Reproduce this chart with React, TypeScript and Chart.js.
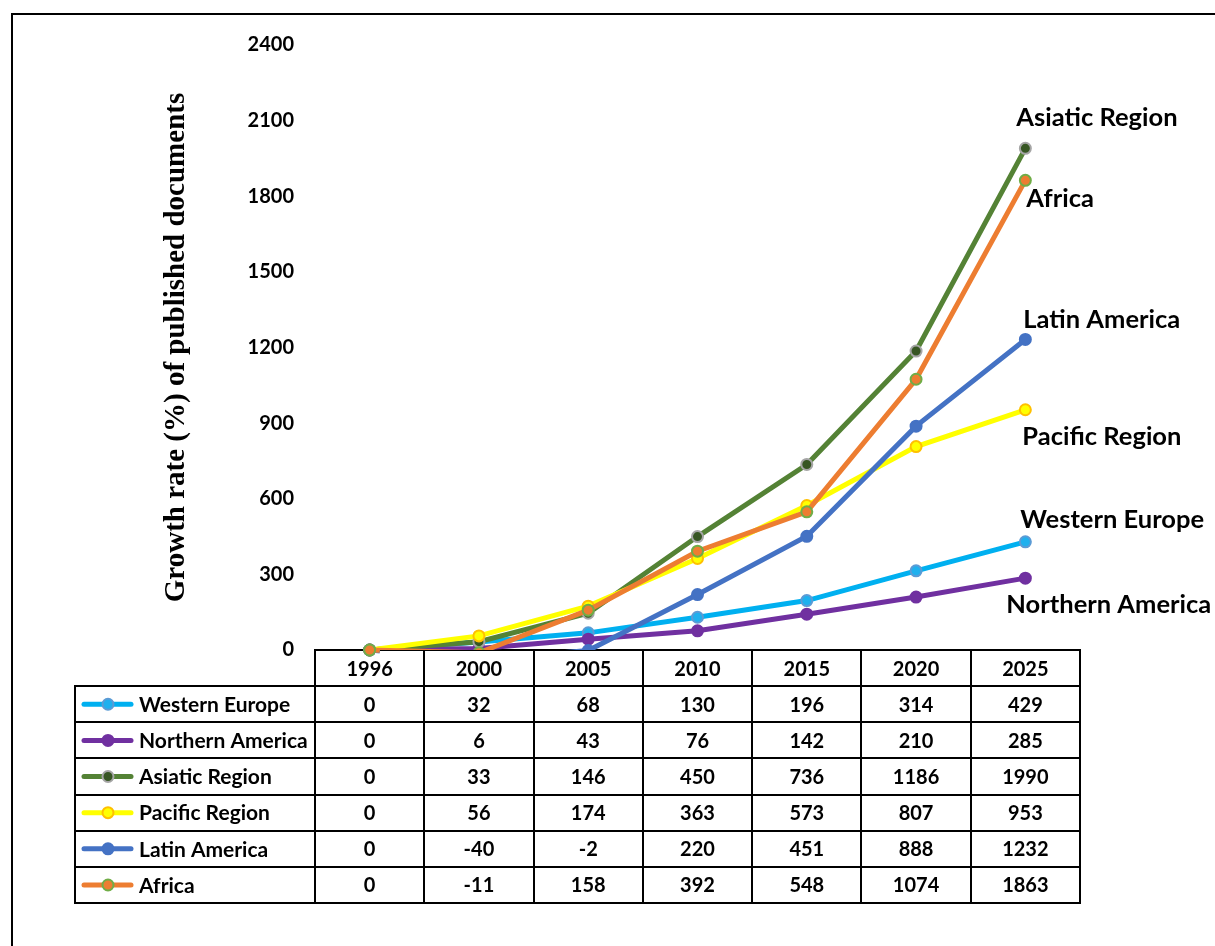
import React, { useEffect, useRef } from "react";
import { Chart, registerables } from "chart.js";

Chart.register(...registerables);

// ---------- DATA ----------
const years = ["1996", "2000", "2005", "2010", "2015", "2020", "2025"];
const seriesNames = [
  "Western Europe",
  "Northern America",
  "Asiatic Region",
  "Pacific Region",
  "Latin America",
  "Africa",
];
const westernEurope = [0, 32, 68, 130, 196, 314, 429];
const northernAmerica = [0, 6, 43, 76, 142, 210, 285];
const asiaticRegion = [0, 33, 146, 450, 736, 1186, 1990];
const pacificRegion = [0, 56, 174, 363, 573, 807, 953];
const latinAmerica = [0, -40, -2, 220, 451, 888, 1232];
const africa = [0, -11, 158, 392, 548, 1074, 1863];
const yMin = 0;
const yMax = 2400;
const yStep = 300;
const yAxisTitle = "Growth rate (%) of published documents";

const seriesValues = [
  westernEurope,
  northernAmerica,
  asiaticRegion,
  pacificRegion,
  latinAmerica,
  africa,
];

// ---------- STYLES ----------
const lineColors = ["#00B0F0", "#7030A0", "#548235", "#FFFF00", "#4472C4", "#ED7D31"];
const markerFills = ["#1FB0EE", "#7030A0", "#375623", "#FFFF00", "#4472C4", "#ED7D31"];
const markerBorders = ["#5B9BD5", "#7030A0", "#A5A5A5", "#FFC000", "#4472C4", "#70AD47"];
// end-label offsets relative to last point (dx, dy)
const endLabelOffsets = [
  [-5, -22],
  [-19, 27],
  [-9, -31],
  [-3, 27],
  [-2, -20],
  [1, 18],
];

const SANS = 'Lato, "Noto Sans", sans-serif';
const TABLE_FONT = `bold 20px ${SANS}`;
const LEGEND_FONT = `bold 21px ${SANS}`;
const END_FONT = `bold 25.5px ${SANS}`;

const framePlugin = {
  id: "frame",
  beforeDraw(chart: any) {
    const { ctx, width, height } = chart;
    ctx.save();
    ctx.fillStyle = "#fff";
    ctx.fillRect(0, 0, width, height);
    ctx.strokeStyle = "#000";
    ctx.lineWidth = 2;
    ctx.strokeRect(12, 14, width + 50, height + 50);
    ctx.restore();
  },
};

const tablePlugin = {
  id: "dataTable",
  beforeDatasetsDraw(chart: any) {
    const { ctx, chartArea } = chart;
    const x = chart.scales.x;
    const n = years.length;
    const top = Math.round(chartArea.bottom);
    const rowH = 36.15;
    const rows = seriesNames.length + 1;
    const bottom = Math.round(top + rows * rowH);
    const colW = x.getPixelForValue(1) - x.getPixelForValue(0);
    const legendLeft = 75;
    const bounds: number[] = [];
    for (let i = 0; i < n; i++) bounds.push(Math.round(x.getPixelForValue(i) - colW / 2));
    bounds.push(Math.round(x.getPixelForValue(n - 1) + colW / 2));
    const left = bounds[0];
    const right = bounds[n];

    ctx.save();
    ctx.strokeStyle = "#000";
    ctx.lineWidth = 2;
    ctx.beginPath();
    ctx.moveTo(left, top);
    ctx.lineTo(right + 1, top);
    for (let r = 1; r <= rows; r++) {
      const y = Math.round(top + r * rowH);
      ctx.moveTo(legendLeft - 1, y);
      ctx.lineTo(right + 1, y);
    }
    for (const b of bounds) {
      ctx.moveTo(b, top - 1);
      ctx.lineTo(b, bottom + 1);
    }
    ctx.moveTo(legendLeft, Math.round(top + rowH) - 1);
    ctx.lineTo(legendLeft, bottom + 1);
    ctx.stroke();

    ctx.fillStyle = "#000";
    ctx.textAlign = "center";
    ctx.textBaseline = "middle";
    ctx.font = TABLE_FONT;
    years.forEach((yr, i) => {
      ctx.fillText(yr, x.getPixelForValue(i), top + rowH / 2 + 1);
    });
    seriesValues.forEach((vals, s) => {
      const cy = top + (s + 1) * rowH + rowH / 2 + 1;
      vals.forEach((v, i) => {
        ctx.fillText(String(v), x.getPixelForValue(i), cy);
      });
    });

    // legend column
    seriesNames.forEach((name, s) => {
      const cy = top + (s + 1) * rowH + rowH / 2;
      ctx.lineCap = "round";
      ctx.lineWidth = 5;
      ctx.strokeStyle = lineColors[s];
      ctx.beginPath();
      ctx.moveTo(84, cy);
      ctx.lineTo(131, cy);
      ctx.stroke();
      ctx.beginPath();
      ctx.arc(108, cy, 5.5, 0, Math.PI * 2);
      ctx.fillStyle = markerFills[s];
      ctx.fill();
      ctx.lineWidth = 2;
      ctx.strokeStyle = markerBorders[s];
      ctx.stroke();
      ctx.fillStyle = "#000";
      ctx.textAlign = "left";
      ctx.font = LEGEND_FONT;
      ctx.fillText(name, 139, cy + 1);
    });
    ctx.restore();
  },
};

const clipPlugin = {
  id: "clipBelowAxis",
  beforeDatasetDraw(chart: any) {
    const { ctx, chartArea, width } = chart;
    const x0 = chart.scales.x.getPixelForValue(0);
    ctx.save();
    ctx.beginPath();
    ctx.rect(0, 0, width, chartArea.bottom);
    ctx.rect(x0 - 10, chartArea.bottom - 1, 20, 10);
    ctx.clip();
  },
  afterDatasetDraw(chart: any) {
    chart.ctx.restore();
  },
};

const endLabelPlugin = {
  id: "endLabels",
  afterDatasetsDraw(chart: any) {
    const { ctx } = chart;
    ctx.save();
    ctx.fillStyle = "#000";
    ctx.font = END_FONT;
    ctx.textAlign = "left";
    ctx.textBaseline = "middle";
    seriesNames.forEach((name, s) => {
      const meta = chart.getDatasetMeta(s);
      const pt = meta.data[meta.data.length - 1];
      const [dx, dy] = endLabelOffsets[s];
      ctx.fillText(name, pt.x + dx, pt.y + dy);
    });
    ctx.restore();
  },
};

export default function App() {
  const ref = useRef<HTMLCanvasElement | null>(null);

  useEffect(() => {
    document.body.style.margin = "0";
    const canvas = ref.current;
    if (!canvas) return;
    const chart = new Chart(canvas, {
      type: "line",
      data: {
        labels: years,
        datasets: seriesNames.map((name, s) => ({
          label: name,
          data: seriesValues[s],
          borderColor: lineColors[s],
          backgroundColor: markerFills[s],
          pointBackgroundColor: markerFills[s],
          pointBorderColor: markerBorders[s],
          pointBorderWidth: 2,
          pointRadius: 5.5,
          borderWidth: 5,
          tension: 0,
          fill: false,
          clip: false as any,
          order: seriesNames.length - s,
        })),
      },
      options: {
        responsive: false,
        animation: false,
        events: [],
        layout: { padding: { left: 150, right: 135, top: 45, bottom: 296 } },
        plugins: {
          legend: { display: false },
          tooltip: { enabled: false },
        },
        scales: {
          x: {
            type: "category",
            offset: true,
            display: false,
          },
          y: {
            min: yMin,
            max: yMax,
            grid: { display: false, drawTicks: false },
            border: { display: false },
            ticks: {
              stepSize: yStep,
              padding: 21,
              color: "#000",
              font: { family: SANS, size: 20, weight: "bold" },
              callback: (v: any) => String(v),
            },
            title: {
              display: true,
              text: yAxisTitle,
              color: "#000",
              padding: { top: 9, bottom: 0 },
              font: { family: '"Liberation Serif", "Times New Roman", serif', size: 29, weight: "bold" },
            },
            afterFit(scale: any) {
              scale.width = 165;
            },
          },
        },
      },
      plugins: [framePlugin, tablePlugin, clipPlugin, endLabelPlugin],
    });
    return () => chart.destroy();
  }, []);

  return (
    <div style={{ width: 1215, height: 946 }}>
      <canvas ref={ref} width={1215} height={946} style={{ display: "block" }} />
    </div>
  );
}
